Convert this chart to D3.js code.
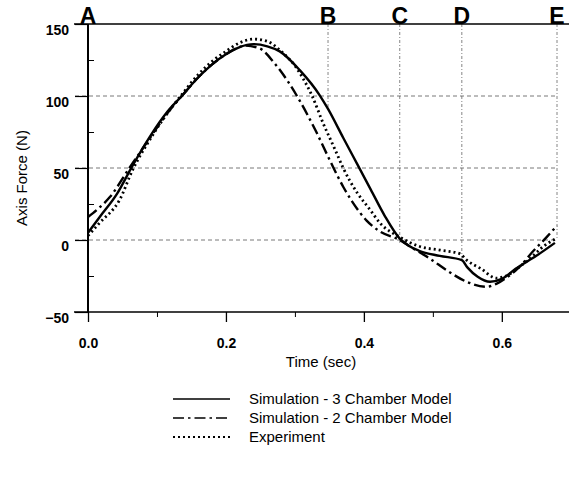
<!DOCTYPE html>
<html lang="en">
  <head>
    <meta charset="utf-8" />
    <title>Axis Force vs Time</title>
    <script src="https://cdnjs.cloudflare.com/ajax/libs/d3/7.8.5/d3.min.js"></script>
    <style type="text/css">
      body {
        margin: 0;
        background: #fff;
      }
      text {
        font-family: Arial, "Liberation Sans", sans-serif;
        fill: #000;
      }
      .grid {
        stroke: #555;
        stroke-width: 0.8;
        stroke-dasharray: 4, 3;
      }
      .marker {
        stroke: #666;
        stroke-width: 0.8;
        stroke-dasharray: 3, 2, 1, 2;
      }
    </style>
  </head>

  <body>
    <div id="playground"></div>

    <script>
      // data: [time (sec), force (N)]
      const sim3 = [
        [0, 5], [0.017, 16], [0.042, 32], [0.065, 52], [0.09, 72], [0.115, 89],
        [0.136, 100], [0.16, 113], [0.18, 122], [0.2, 129], [0.22, 134], [0.24, 136],
        [0.26, 134.5], [0.278, 131], [0.307, 118], [0.336, 100.5], [0.348, 91],
        [0.37, 71], [0.39, 53], [0.41, 35], [0.43, 17], [0.452, 1], [0.465, -4],
        [0.48, -7.5], [0.51, -11], [0.542, -14], [0.55, -19], [0.565, -25.5],
        [0.583, -29], [0.6, -27], [0.62, -20], [0.65, -11], [0.677, -2]
      ];
      const sim2 = [
        [0, 16], [0.013, 21], [0.032, 30], [0.06, 50], [0.09, 71], [0.115, 88],
        [0.136, 100], [0.16, 113], [0.18, 122], [0.2, 129], [0.215, 133], [0.228, 135],
        [0.249, 133], [0.27, 123], [0.29, 110], [0.303, 100], [0.33, 76], [0.351, 55],
        [0.37, 37], [0.384, 26], [0.404, 13.5], [0.423, 6], [0.452, 0], [0.47, -5.5],
        [0.496, -13], [0.52, -21], [0.549, -29], [0.578, -32.5], [0.592, -30.5],
        [0.61, -25], [0.626, -18.5], [0.645, -8], [0.665, 2], [0.68, 10]
      ];
      const experiment = [
        [0, 3], [0.017, 12], [0.046, 28], [0.065, 49], [0.09, 70], [0.115, 88],
        [0.136, 101], [0.16, 115], [0.18, 124], [0.2, 131], [0.22, 137], [0.24, 139.5],
        [0.26, 138], [0.28, 131], [0.3, 121], [0.312, 112], [0.325, 100], [0.341, 81],
        [0.358, 63], [0.37, 50], [0.39, 33], [0.409, 21], [0.423, 12], [0.452, 2],
        [0.481, -4.5], [0.51, -7], [0.539, -9.5], [0.549, -14], [0.57, -20],
        [0.592, -26.5], [0.61, -24], [0.626, -18.5], [0.645, -11], [0.66, -4.6],
        [0.68, 1.4]
      ];

      // event markers along the top
      const events = ["A", "B", "C", "D", "E"];
      const eventTimes = [0, 0.348, 0.452, 0.542, 0.68];
      const eventEnds = [150, 91, -2, -14, 0];

      const xTicks = [0, 0.2, 0.4, 0.6];
      const xMinorTicks = [0.1, 0.3, 0.5];
      const yTicks = [-50, 0, 50, 100, 150];
      const yMinorTicks = [-25, 25, 75, 125];
      const gridValues = [0, 50, 100];

      const legendLabels = [
        "Simulation - 3 Chamber Model",
        "Simulation - 2 Chamber Model",
        "Experiment"
      ];

      const width = 569;
      const height = 479;
      const marginTop = 24;
      const marginLeft = 88;
      const plotBottom = 312;

      const x = d3.scaleLinear().domain([0, 0.68]).range([marginLeft, 557]);
      const y = d3.scaleLinear().domain([-50, 150]).range([plotBottom, marginTop]);

      const svg = d3
        .select("#playground")
        .append("svg")
        .attr("width", width)
        .attr("height", height)
        .attr("viewBox", [0, 0, width, height]);

      // horizontal grid
      svg.append("g")
        .selectAll("line")
        .data(gridValues)
        .join("line")
        .attr("class", "grid")
        .attr("x1", 75)
        .attr("x2", x(0.68))
        .attr("y1", (d) => y(d))
        .attr("y2", (d) => y(d));

      // event markers
      svg.append("g")
        .selectAll("line")
        .data(eventTimes.slice(1))
        .join("line")
        .attr("class", "marker")
        .attr("x1", (d) => x(d))
        .attr("x2", (d) => x(d))
        .attr("y1", y(150))
        .attr("y2", (d, i) => y(eventEnds[i + 1]));

      svg.append("g")
        .selectAll("text")
        .data(events)
        .join("text")
        .attr("x", (d, i) => x(eventTimes[i]))
        .attr("y", marginTop)
        .attr("text-anchor", "middle")
        .attr("font-size", 23)
        .attr("font-weight", "bold")
        .text((d) => d);

      // top frame line
      svg.append("line")
        .attr("x1", 74)
        .attr("x2", width)
        .attr("y1", y(150))
        .attr("y2", y(150))
        .attr("stroke", "#000")
        .attr("stroke-width", 1.5);

      // x axis
      const xAxis = d3.axisBottom(x)
        .tickValues(xTicks)
        .tickFormat(d3.format(".1f"))
        .tickSize(10)
        .tickPadding(16);

      svg.append("g")
        .attr("transform", `translate(0, ${plotBottom})`)
        .call(xAxis)
        .call((g) => g.select(".domain").remove())
        .call((g) => g.selectAll("text")
          .attr("font-size", 14)
          .attr("font-weight", "bold"))
        .call((g) => g.selectAll(".tick line").attr("stroke-width", 1.3))
        .call((g) => g.append("line")
          .attr("x1", 74)
          .attr("x2", width)
          .attr("stroke", "#000")
          .attr("stroke-width", 1.5));

      svg.append("g")
        .attr("transform", `translate(0, ${plotBottom})`)
        .call(d3.axisBottom(x).tickValues(xMinorTicks).tickSize(5).tickFormat(""))
        .call((g) => g.select(".domain").remove());

      svg.append("text")
        .attr("x", 321)
        .attr("y", 367)
        .attr("text-anchor", "middle")
        .attr("font-size", 15)
        .text("Time (sec)");

      // y axis
      svg.append("g")
        .attr("transform", `translate(${marginLeft}, 0)`)
        .call(d3.axisLeft(y).tickValues(yTicks).tickSize(13).tickPadding(6))
        .call((g) => g.select(".domain")
          .attr("stroke-width", 2)
          .attr("d", `M0,${y(150)}V${plotBottom}`))
        .call((g) => g.selectAll(".tick line").attr("stroke-width", 1.2))
        .call((g) => g.selectAll("text")
          .attr("font-size", 14)
          .attr("font-weight", "bold")
          .attr("dy", "0.75em"));

      svg.append("g")
        .attr("transform", `translate(${marginLeft}, 0)`)
        .call(d3.axisRight(y).tickValues(yMinorTicks).tickSize(6).tickFormat(""))
        .call((g) => g.select(".domain").remove());

      svg.append("text")
        .attr("transform", `translate(27, 178) rotate(-90)`)
        .attr("text-anchor", "middle")
        .attr("font-size", 15)
        .text("Axis Force (N)");

      // curves
      const line = d3.line()
        .x((d) => x(d[0]))
        .y((d) => y(d[1]))
        .curve(d3.curveMonotoneX);

      const styles = [
        { data: sim3, dash: null, width: 2.4 },
        { data: sim2, dash: "11,4,2.5,4", width: 2.4 },
        { data: experiment, dash: "2,3", width: 2.8 }
      ];

      svg.append("g")
        .selectAll("path")
        .data(styles)
        .join("path")
        .attr("fill", "none")
        .attr("stroke", "#000")
        .attr("stroke-width", (d) => d.width)
        .attr("stroke-dasharray", (d) => d.dash)
        .attr("d", (d) => line(d.data));

      // legend
      const legend = svg.append("g")
        .selectAll("g")
        .data(legendLabels)
        .join("g")
        .attr("transform", (d, i) => `translate(173, ${399 + i * 19})`);

      legend.append("line")
        .attr("x1", 0)
        .attr("x2", 57)
        .attr("stroke", "#000")
        .attr("stroke-width", (d, i) => styles[i].width * 0.7)
        .attr("stroke-dasharray", (d, i) => styles[i].dash);

      legend.append("text")
        .attr("x", 76)
        .attr("y", 5)
        .attr("font-size", 15)
        .text((d) => d);
    </script>
  </body>
</html>
